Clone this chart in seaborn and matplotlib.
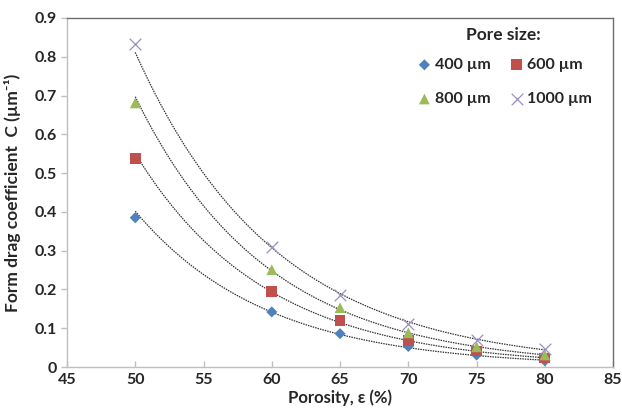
import numpy as np
import pandas as pd
import matplotlib
matplotlib.use("Agg")
import matplotlib.pyplot as plt
import seaborn as sns

porosity = [50, 60, 65, 70, 75, 80]
c_400 = [0.385, 0.142, 0.086, 0.053, 0.031, 0.016]
c_600 = [0.537, 0.194, 0.119, 0.068, 0.041, 0.023]
c_800 = [0.681, 0.251, 0.153, 0.088, 0.052, 0.031]
c_1000 = [0.833, 0.309, 0.186, 0.111, 0.070, 0.047]
labels = ["400 µm", "600 µm", "800 µm", "1000 µm"]

series = [c_400, c_600, c_800, c_1000]
df = pd.concat([pd.DataFrame({"Porosity": porosity, "C": s, "Pore": l})
                for s, l in zip(series, labels)], ignore_index=True)

sns.set_style("white")
plt.rcParams['font.family'] = ['Lato', 'DejaVu Sans']

fig = plt.figure(figsize=(6.22, 4.18), dpi=100)
ax = fig.add_axes([0.1077, 0.122, 0.878, 0.835])

colors = ["#4F81BD", "#C0504D", "#9BBB59", "#9C8FC0"]
markers = ["D", "s", "^", "x"]
sizes = [32, 60, 60, 70]

# exponential trendlines
xx = np.linspace(50, 80, 200)
for s in series:
    b, a = np.polyfit(porosity, np.log(s), 1)
    ax.plot(xx, np.exp(a + b * xx), color="#333333", lw=0.9, ls=(0, (1.2, 0.8)), zorder=2)

handles = []
for l, c, m, sz in zip(labels, colors, markers, sizes):
    sub = df[df.Pore == l]
    if m == "x":
        h = ax.scatter(sub.Porosity, sub.C, marker=m, s=sz, color=c, linewidths=0.9,
                       label=l, zorder=3)
    else:
        h = ax.scatter(sub.Porosity, sub.C, marker=m, s=sz, color=c, edgecolors="none",
                       label=l, zorder=3)
    handles.append(h)

ax.set_xlim(45, 85)
ax.set_ylim(0, 0.9)
ax.set_xticks(range(45, 86, 5))
ax.set_yticks(np.round(np.arange(0, 0.91, 0.1), 1))
ax.set_yticklabels(["0"] + [f"{v:.1f}" for v in np.arange(0.1, 0.91, 0.1)])
for lab in ax.get_xticklabels() + ax.get_yticklabels():
    lab.set_fontweight("bold")
    lab.set_fontsize(11.5)
ax.tick_params(axis="x", direction="in", length=4, color="#BFBFBF", width=1,
               pad=4, bottom=True)
ax.tick_params(axis="y", direction="out", length=4, color="#BFBFBF", width=1,
               pad=3, left=True)
for sp in ["top", "right"]:
    ax.spines[sp].set_color("#6E6E6E")
    ax.spines[sp].set_linewidth(1)
for sp in ["left", "bottom"]:
    ax.spines[sp].set_color("#BFBFBF")
    ax.spines[sp].set_linewidth(1)

ax.set_xlabel("Porosity, ε (%)", fontsize=12, fontweight="bold", labelpad=2)
ax.set_ylabel("Form drag coefficient  C (µm⁻¹)", fontsize=12.5,
              fontweight="bold", labelpad=10)

order = [0, 2, 1, 3]
leg = ax.legend([handles[i] for i in order], [labels[i] for i in order],
                title="Pore size:", ncol=2, loc="upper right",
                bbox_to_anchor=(0.985, 1.01), frameon=False, fontsize=11.5,
                title_fontsize=12.5, handletextpad=0.0, columnspacing=1.0,
                labelspacing=1.25, borderpad=0.3, handlelength=1.3)
leg.get_title().set_fontweight("bold")
leg._legend_box.sep = 10.5
for t in leg.get_texts():
    t.set_fontweight("bold")

fig.savefig("out.png", dpi=100)
